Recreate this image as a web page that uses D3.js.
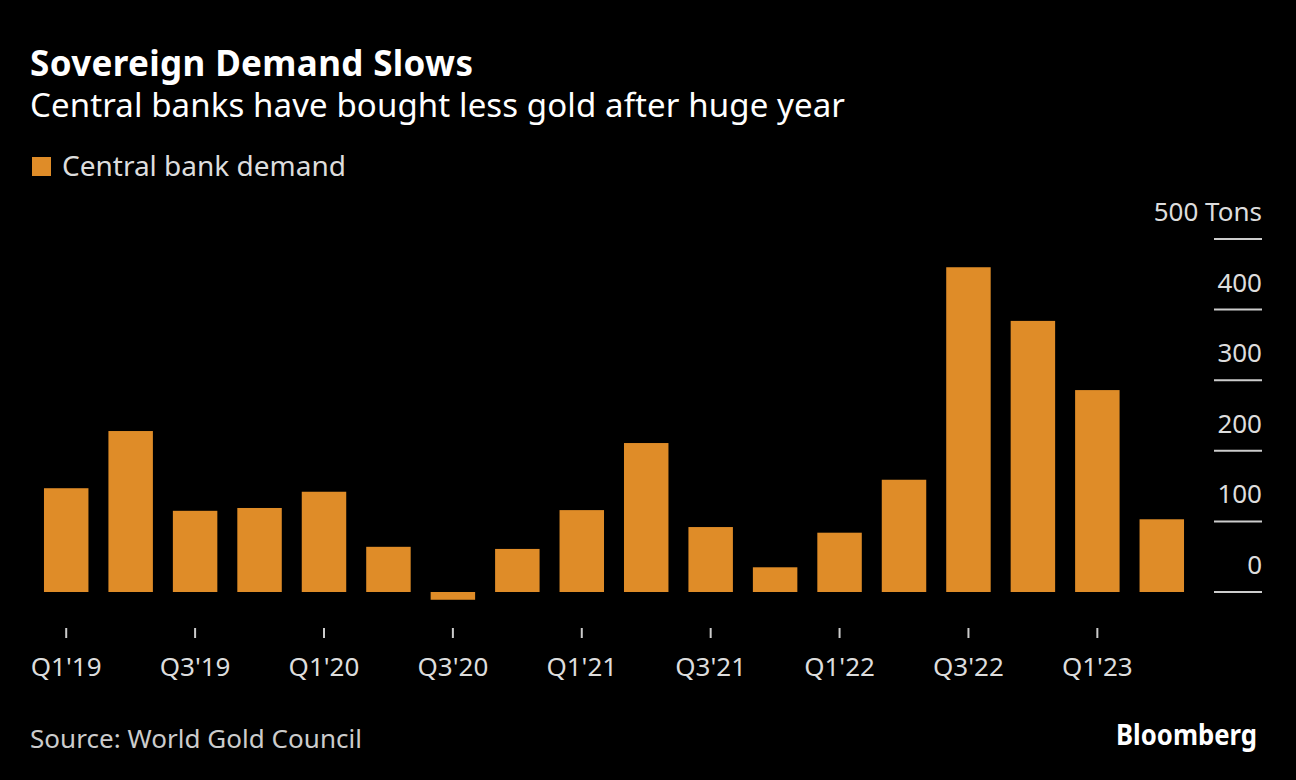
<!DOCTYPE html>
<html>
<head>
<meta charset="utf-8">
<script src="https://cdn.jsdelivr.net/npm/d3@7"></script>
<style>
  body { margin: 0; background: #000; }
  svg { display: block; font-family: "Source Sans Pro", "Noto Sans", sans-serif; }
</style>
</head>
<body>
<svg width="1296" height="780"></svg>
<script>
const quarters = ["Q1'19","Q2'19","Q3'19","Q4'19","Q1'20","Q2'20","Q3'20","Q4'20",
  "Q1'21","Q2'21","Q3'21","Q4'21","Q1'22","Q2'22","Q3'22","Q4'22","Q1'23","Q2'23"];
const demand = [147, 228, 115, 119, 142, 64, -11, 61, 116, 211, 92, 35, 84, 159, 460, 384, 286, 103];
const yTicks = [0, 100, 200, 300, 400, 500];
const xTickLabels = ["Q1'19","Q3'19","Q1'20","Q3'20","Q1'21","Q3'21","Q1'22","Q3'22","Q1'23"];

const barColor = "#df8c28";
const svg = d3.select("svg");
svg.append("rect").attr("width", 1296).attr("height", 780).attr("fill", "#000");

// titles (textLength keeps the widths of the original typeface)
svg.append("text").attr("x", 30).attr("y", 76)
  .attr("fill", "#fff").attr("font-size", 35).attr("font-weight", 700)
  .attr("textLength", 443).attr("lengthAdjust", "spacing")
  .text("Sovereign Demand Slows");
svg.append("text").attr("x", 30).attr("y", 117)
  .attr("fill", "#fff").attr("font-size", 33)
  .attr("textLength", 815).attr("lengthAdjust", "spacing")
  .text("Central banks have bought less gold after huge year");

// legend
svg.append("rect").attr("x", 32).attr("y", 157).attr("width", 19).attr("height", 19).attr("fill", barColor);
svg.append("text").attr("x", 62).attr("y", 176)
  .attr("fill", "#ddd").attr("font-size", 28)
  .attr("textLength", 284).attr("lengthAdjust", "spacing")
  .text("Central bank demand");

const x = d3.scaleBand().domain(quarters).range([24, 1204]).padding(0.31);
const y = d3.scaleLinear().domain([0, 500]).range([592, 239]);

// y axis (right, tick lines with labels above)
const yg = svg.append("g");
yg.selectAll("line").data(yTicks).enter().append("line")
  .attr("x1", 1214).attr("x2", 1262)
  .attr("y1", d => y(d)).attr("y2", d => y(d))
  .attr("stroke", "#ccc").attr("stroke-width", 2);
yg.selectAll("text").data(yTicks).enter().append("text")
  .attr("x", 1262).attr("y", d => y(d) - 18)
  .attr("text-anchor", "end").attr("fill", "#ddd").attr("font-size", 26)
  .text(d => d === 500 ? "500 Tons" : d);

// bars
svg.selectAll(".bar").data(quarters).enter().append("rect")
  .attr("class", "bar")
  .attr("x", d => x(d))
  .attr("width", x.bandwidth())
  .attr("y", (d, i) => y(Math.max(0, demand[i])))
  .attr("height", (d, i) => Math.abs(y(demand[i]) - y(0)))
  .attr("fill", barColor);

// x axis
const xg = svg.append("g");
xg.selectAll("line").data(xTickLabels).enter().append("line")
  .attr("x1", d => x(d) + x.bandwidth() / 2).attr("x2", d => x(d) + x.bandwidth() / 2)
  .attr("y1", 628).attr("y2", 638)
  .attr("stroke", "#ccc").attr("stroke-width", 2);
xg.selectAll("text").data(xTickLabels).enter().append("text")
  .attr("x", d => x(d) + x.bandwidth() / 2).attr("y", 676)
  .attr("text-anchor", "middle").attr("fill", "#ddd").attr("font-size", 26)
  .text(d => d);

// footer
svg.append("text").attr("x", 30).attr("y", 748)
  .attr("fill", "#ccc").attr("font-size", 26)
  .attr("textLength", 332).attr("lengthAdjust", "spacing")
  .text("Source: World Gold Council");
svg.append("text").attr("x", 1116).attr("y", 745)
  .attr("fill", "#fff").attr("font-size", 28).attr("font-weight", 700)
  .attr("textLength", 141).attr("lengthAdjust", "spacingAndGlyphs")
  .text("Bloomberg");
</script>
</body>
</html>
